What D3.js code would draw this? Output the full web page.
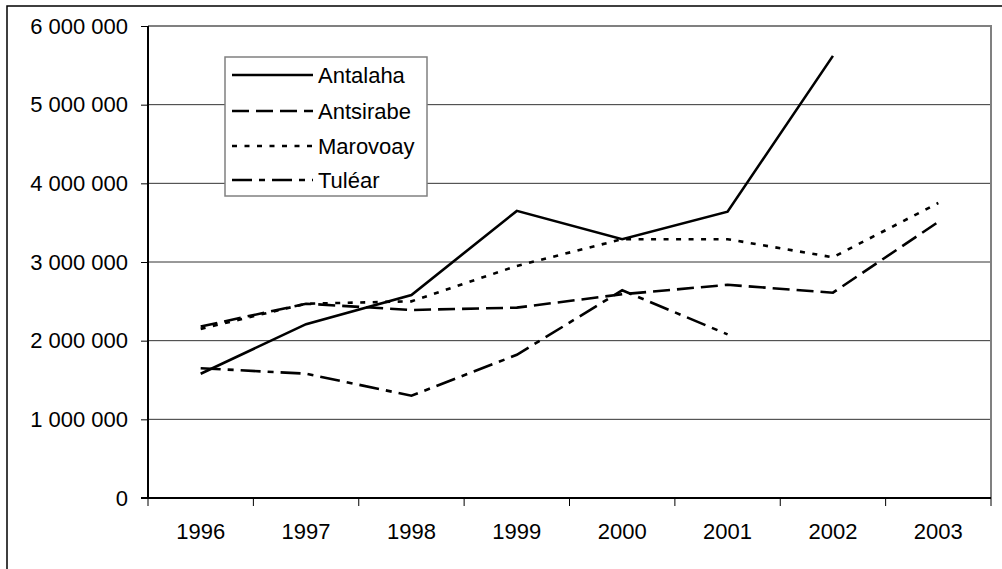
<!DOCTYPE html>
<html><head><meta charset="utf-8">
<script src="https://cdn.jsdelivr.net/npm/d3@7"></script>
<style>html,body{margin:0;padding:0;background:#fff;}svg{display:block;}text{font-family:"Liberation Sans",Arial,sans-serif;}</style>
</head><body>
<script>
const years = ["1996","1997","1998","1999","2000","2001","2002","2003"];
const antalaha  = [1580000, 2210000, 2580000, 3650000, 3290000, 3640000, 5620000, null];
const antsirabe = [2180000, 2470000, 2390000, 2420000, 2590000, 2710000, 2610000, 3510000];
const marovoay  = [2150000, 2470000, 2500000, 2950000, 3290000, 3290000, 3060000, 3750000];
const tulear    = [1650000, 1580000, 1300000, 1820000, 2640000, 2080000, null, null];
const seriesNames = ["Antalaha","Antsirabe","Marovoay","Tuléar"];
const yTicks = [0,1000000,2000000,3000000,4000000,5000000,6000000];

const W=1002,H=569;
const svg=d3.select("body").append("svg").attr("width",W).attr("height",H);
svg.append("rect").attr("x",7).attr("y",6).attr("width",1005).attr("height",575)
  .attr("fill","#fff").attr("stroke","#000").attr("stroke-width",1.5);

const L=148,R=991,T=26,B=498;
const x=d3.scaleBand().domain(years).range([L,R]).padding(0);
const y=d3.scaleLinear().domain([0,6000000]).range([B,T]);
const loc=d3.formatLocale({decimal:",",thousands:" ",grouping:[3],currency:["",""]});
const fmt=loc.format(",");

// gridlines
svg.append("g").selectAll("line").data(yTicks.filter(v=>v>0&&v<6000000)).join("line")
  .attr("x1",L).attr("x2",R).attr("y1",d=>y(d)).attr("y2",d=>y(d))
  .attr("stroke","#333").attr("stroke-width",1);
// plot border top/right
svg.append("path").attr("d",`M${L},${T}H${R}V${B}`).attr("fill","none").attr("stroke","#808080").attr("stroke-width",2);

// axes
const yAxis=d3.axisLeft(y).tickValues(yTicks).tickFormat(fmt).tickSize(7).tickPadding(13);
const gy=svg.append("g").attr("transform",`translate(${L},0)`).call(yAxis);
const xAxis=d3.axisBottom(x).tickSize(0).tickPadding(25);
const gx=svg.append("g").attr("transform",`translate(0,${B})`).call(xAxis);
[gy,gx].forEach(g=>{g.select(".domain").remove();g.selectAll("text").attr("font-size",22).attr("fill","#000").attr("font-family","'Liberation Sans',Arial,sans-serif");g.selectAll("line").attr("stroke","#000");});
// x tick marks at band boundaries
const bounds=years.map(d=>x(d)).concat([R]);
svg.append("g").selectAll("line").data(bounds).join("line")
  .attr("x1",d=>d).attr("x2",d=>d).attr("y1",B).attr("y2",B+8).attr("stroke","#000").attr("stroke-width",1);
svg.append("line").attr("x1",L).attr("x2",L).attr("y1",T).attr("y2",B).attr("stroke","#000").attr("stroke-width",2);
svg.append("line").attr("x1",L-7).attr("x2",R).attr("y1",B).attr("y2",B).attr("stroke","#000").attr("stroke-width",2);

const data=[antalaha,antsirabe,marovoay,tulear];
const dashes=[null,"17,7","5,7.5","20,7,6,7"];
const line=d3.line().defined(d=>d.v!=null).x(d=>x(d.k)+x.bandwidth()/2).y(d=>y(d.v));
data.forEach((s,i)=>{
  svg.append("path").datum(years.map((k,j)=>({k,v:s[j]})))
    .attr("d",line).attr("fill","none").attr("stroke","#000").attr("stroke-width",2.6)
    .attr("stroke-dasharray",dashes[i]);
});

// legend
const lg=svg.append("g");
lg.append("rect").attr("x",225).attr("y",57).attr("width",202).attr("height",139)
  .attr("fill","#fff").attr("stroke","#808080").attr("stroke-width",1.5);
const rowY=[75,111,146,180];
seriesNames.forEach((n,i)=>{
  lg.append("line").attr("x1",232).attr("x2",313).attr("y1",rowY[i]).attr("y2",rowY[i])
    .attr("stroke","#000").attr("stroke-width",2.6).attr("stroke-dasharray",dashes[i]);
  lg.append("text").attr("x",318).attr("y",rowY[i]).attr("dy","0.36em").attr("font-size",22).text(n);
});
</script>
</body></html>
